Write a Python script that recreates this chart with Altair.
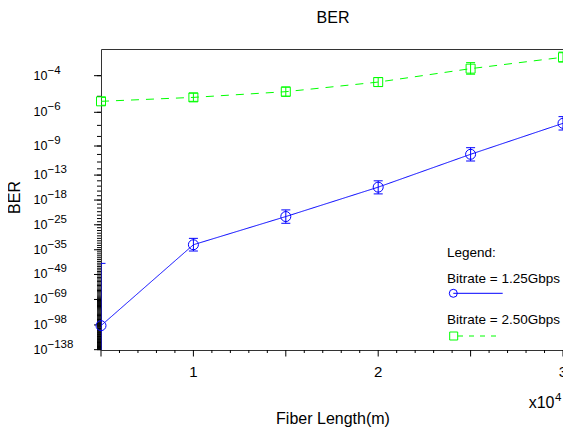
import altair as alt
import pandas as pd

# ---------------- data ----------------
fiber_length_m = [5000, 10000, 15000, 20000, 25000, 30000]
bitrates = ["Bitrate = 1.25Gbps", "Bitrate = 2.50Gbps"]
series_colors = ["#0000ff", "#00ff00"]

# log10(BER) of each point and of its error-bar ends
log10_ber_125 = [-99.0, -32.7, -22.4, -15.2, -9.98, -6.83]
log10_ber_125_hi = [-42.1, -30.0, -20.5, -14.0, -9.19, -6.31]
log10_ber_125_lo = [-140.0, -35.6, -24.5, -16.6, -10.86, -7.40]
log10_ber_250 = [-5.29, -5.06, -4.75, -4.28, -3.72, -3.32]
log10_ber_250_hi = [-5.06, -4.83, -4.51, -4.08, -3.50, -3.16]
log10_ber_250_lo = [-5.53, -5.29, -5.00, -4.49, -3.94, -3.48]

# axis ticks
y_tick_exponents = [4, 6, 9, 13, 18, 25, 35, 49, 69, 98, 138]
y_minor_exponents = list(range(4, 139))
x_major_ticks = [0.5, 1.0, 1.5, 2.0, 2.5, 3.0]
x_label_values = [1, 2, 3]
x_minor_ticks = [0.6, 0.7, 0.8, 0.9, 1.1, 1.2, 1.3, 1.4, 1.6, 1.7, 1.8, 1.9,
                 2.1, 2.2, 2.3, 2.4, 2.6, 2.7, 2.8, 2.9]

FONT = "Liberation Sans"
W, H = 462, 301


def yval(log10_ber):
    # the axis is logarithmic in (-log10(BER) - 1)
    return -log10_ber - 1.0


rows = []
for name, vals, his, los in [
    (bitrates[0], log10_ber_125, log10_ber_125_hi, log10_ber_125_lo),
    (bitrates[1], log10_ber_250, log10_ber_250_hi, log10_ber_250_lo),
]:
    for L, v, h, l in zip(fiber_length_m, vals, his, los):
        rows.append({"series": name, "x": L / 1e4, "y": yval(v),
                     "hi": yval(h), "lo": yval(l)})
df = pd.DataFrame(rows)

ticks_df = pd.DataFrame({"e": y_tick_exponents})
ticks_df["y"] = ticks_df["e"] - 1.0
ticks_df["lab"] = ["\u2212" + str(e) for e in y_tick_exponents]
minor_df = pd.DataFrame({"y": [e - 1.0 for e in y_minor_exponents]})
xminor_df = pd.DataFrame({"x": x_minor_ticks})
xmajor_df = pd.DataFrame({"x": x_major_ticks})
xlab_df = pd.DataFrame({"x": x_label_values, "t": [str(v) for v in x_label_values]})

yscale = alt.Scale(type="log", domain=[2.068, 137.6], reverse=True, nice=False, zero=False)
xscale = alt.Scale(domain=[0.5, 3.0], nice=False, zero=False)
cscale = alt.Scale(domain=bitrates, range=series_colors)

X = alt.X("x:Q", scale=xscale,
          axis=alt.Axis(values=x_major_ticks, tickSize=6, grid=False, title=None, labels=False,
                        domainColor="black", tickColor="black"))
Y = alt.Y("y:Q", scale=yscale,
          axis=alt.Axis(values=[e - 1.0 for e in y_tick_exponents], tickSize=7,
                        labels=False, grid=False, title=None,
                        domainColor="black", tickColor="black"))
Xn = alt.X("x:Q", scale=xscale, axis=None)
Yn = alt.Y("y:Q", scale=yscale, axis=None)
C = alt.Color("series:N", scale=cscale, legend=None)

lines = alt.Chart(df).mark_line(strokeWidth=1).encode(
    x=X, y=Y, color=C,
    strokeDash=alt.StrokeDash("series:N", scale=alt.Scale(domain=bitrates, range=[[1, 0], [8, 7]]),
                              legend=None))
err = alt.Chart(df).mark_rule(strokeWidth=1, clip=True).encode(
    x=Xn, y=alt.Y("lo:Q", scale=yscale, axis=None), y2="hi:Q", color=C)
cap_lo = alt.Chart(df).mark_tick(orient="horizontal", size=9, thickness=1, opacity=1, clip=True).encode(
    x=Xn, y=alt.Y("lo:Q", scale=yscale, axis=None), color=C)
cap_hi = alt.Chart(df).mark_tick(orient="horizontal", size=9, thickness=1, opacity=1, clip=True).encode(
    x=Xn, y=alt.Y("hi:Q", scale=yscale, axis=None), color=C)
pts = alt.Chart(df).mark_point(filled=False, opacity=1, strokeWidth=1).encode(
    x=Xn, y=Yn, color=C,
    shape=alt.Shape("series:N", scale=alt.Scale(domain=bitrates, range=["circle", "square"]), legend=None),
    size=alt.Size("series:N", scale=alt.Scale(domain=bitrates, range=[100, 81]), legend=None))

# ticks and tick labels
ymajor = alt.Chart(ticks_df).mark_rule(color="black", strokeWidth=1).encode(
    y=Yn, x=alt.value(-7), x2=alt.value(0))
yminor = alt.Chart(minor_df).mark_rule(color="black", strokeWidth=1).encode(
    y=Yn, x=alt.value(-4), x2=alt.value(0))
xmajor = alt.Chart(xmajor_df).mark_rule(color="black", strokeWidth=1).encode(
    x=Xn, y=alt.value(H), y2=alt.value(H + 6.5))
xminor = alt.Chart(xminor_df).mark_rule(color="black", strokeWidth=1).encode(
    x=Xn, y=alt.value(H), y2=alt.value(H + 3))
xlabels = alt.Chart(xlab_df).mark_text(align="center", baseline="middle", fontSize=15, font=FONT,
                                       color="black").encode(
    x=Xn, y=alt.value(H + 22), text="t:N")
ylab10 = alt.Chart(ticks_df).mark_text(align="left", baseline="middle", fontSize=12.5, font=FONT,
                                       color="black").encode(
    y=Yn, x=alt.value(-67.5), text=alt.value("10"))
ylabexp = alt.Chart(ticks_df).mark_text(align="left", baseline="middle", fontSize=11.5, font=FONT,
                                        color="black", dy=-5).encode(
    y=Yn, x=alt.value(-53.5), text="lab:N")

one = pd.DataFrame({"k": [0]})


def txt(s, x, y, size, align="center", angle=0, dy=0):
    return alt.Chart(one).mark_text(align=align, baseline="middle", fontSize=size, font=FONT,
                                    color="black", angle=angle, dy=dy).encode(
        x=alt.value(x), y=alt.value(y), text=alt.value(s))


title = txt("BER", 232, -31.5, 16)
ytitle = txt("BER", -86.3, 148.5, 16, angle=270)
xtitle = txt("Fiber Length(m)", 232, 370, 16)
xmul = txt("x10", W - 8.5, 353.5, 16, align="right")
xmul_exp = txt("4", W - 8, 348.5, 11.5, align="left")

# custom legend
leg_title = txt("Legend:", 346, 203.8, 13.5, align="left")
leg1 = txt(bitrates[0], 346, 229.5, 13.5, align="left")
leg2 = txt(bitrates[1], 346, 271, 13.5, align="left")
leg1_line = alt.Chart(one).mark_rule(color=series_colors[0], strokeWidth=1).encode(
    x=alt.value(352.3), x2=alt.value(401.7), y=alt.value(244.3))
leg1_pt = alt.Chart(one).mark_point(shape="circle", size=64, filled=False, opacity=1,
                                    color=series_colors[0], strokeWidth=1).encode(
    x=alt.value(352.3), y=alt.value(244.3))
leg2_line = alt.Chart(one).mark_rule(color=series_colors[1], strokeWidth=1, strokeDash=[5, 6]).encode(
    x=alt.value(357), x2=alt.value(401), y=alt.value(287))
leg2_pt = alt.Chart(one).mark_point(shape="square", size=64, filled=False, opacity=1,
                                    color=series_colors[1], strokeWidth=1).encode(
    x=alt.value(352.7), y=alt.value(287))

chart = alt.layer(
    lines, ymajor, yminor, xmajor, xminor, xlabels, err, cap_lo, cap_hi, pts, ylab10, ylabexp,
    title, ytitle, xtitle, xmul, xmul_exp,
    leg_title, leg1, leg2, leg1_line, leg1_pt, leg2_line, leg2_pt,
).properties(
    width=W, height=H,
    autosize=alt.AutoSizeParams(type="none"),
    padding={"left": 93, "top": 41, "right": 0, "bottom": 78},
    background="white",
).configure_view(stroke="#333333", strokeWidth=1)

chart.save("out.html", embed_options={"renderer": "svg", "actions": False})
